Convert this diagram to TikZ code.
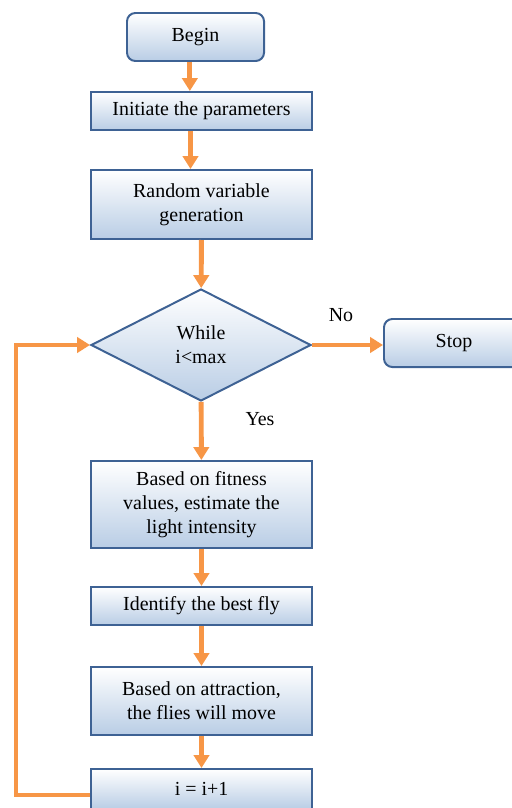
\documentclass[tikz,border=0pt]{standalone}
\usepackage{fontspec}
\setmainfont{Liberation Serif}
\usepackage{tikz}
\usetikzlibrary{shapes.geometric, arrows.meta, positioning}
\definecolor{ffblue}{RGB}{62, 98, 148}
\definecolor{ffshade}{RGB}{185, 205, 229}
\definecolor{fforange}{RGB}{247, 150, 70}
\tikzstyle{roundnode} = [rectangle, rounded corners=0.25cm, minimum width=4.11cm, minimum height=1.44cm, align=center, draw=ffblue, line width=1.7pt, top color=white, bottom color=ffshade]
\tikzstyle{stepnode} = [rectangle, minimum width=6.63cm, minimum height=1.14cm, align=center, draw=ffblue, line width=1.7pt, top color=white, bottom color=ffshade]
\tikzstyle{testnode} = [diamond, minimum width=6.6cm, minimum height=3.36cm, inner sep=0pt, align=center, draw=ffblue, line width=1.7pt, top color=white, bottom color=ffshade]
\tikzstyle{arrow} = [line width=4.2pt, draw=fforange, -{Triangle[width=13pt,length=11pt]}]

\begin{document}
\begin{tikzpicture}[x=0.03cm, y=-0.03cm, font=\fontsize{17}{20.5}\selectfont]
                \useasboundingbox (0,0) rectangle (512,808);
                \clip (0,0) rectangle (512,808);
                \node[roundnode] (begin) at (195.5,37) {Begin};
                \node[stepnode] (init) at (201.5,111) {Initiate the parameters};
                \node[stepnode, minimum height=2.07cm] (random) at (201.5,204.5) {Random variable\\generation};
                \node[testnode] (loop) at (201,345) {While\\i<max};
                \node[roundnode, minimum width=4.2cm] (stop) at (454,343) {Stop};
                \node[stepnode, minimum height=2.61cm] (fitness) at (201.5,504.5) {Based on fitness\\values, estimate the\\light intensity};
                \node[stepnode] (best) at (201.5,606) {Identify the best fly};
                \node[stepnode, minimum height=2.04cm] (move) at (201.5,701) {Based on attraction,\\the flies will move};
                \node[stepnode, minimum height=1.2cm] (inc) at (201.5,789) {i = i+1};
                \node (no) at (341,315) {No};
                \node (yes) at (260,419) {Yes};
                \coordinate (back) at (16,795);
                
                \draw[arrow] ([xshift=-0.17cm]begin.south) -- ([xshift=-0.17cm]begin.south |- init.north);
                \draw[arrow] ([xshift=-0.33cm]init.south) -- ([xshift=-0.33cm]init.south |- random.north);
                \draw[arrow] (random) -- (loop);
                \draw[arrow] (loop.east) -- (loop.east -| stop.west);
                \draw[arrow] (loop) -- (fitness);
                \draw[arrow] (fitness) -- (best);
                \draw[arrow] (best) -- (move);
                \draw[arrow] (move) -- (inc);
                \draw[arrow] (inc.west |- back) -- (back) |- (loop.west);
            \end{tikzpicture}
\end{document}
